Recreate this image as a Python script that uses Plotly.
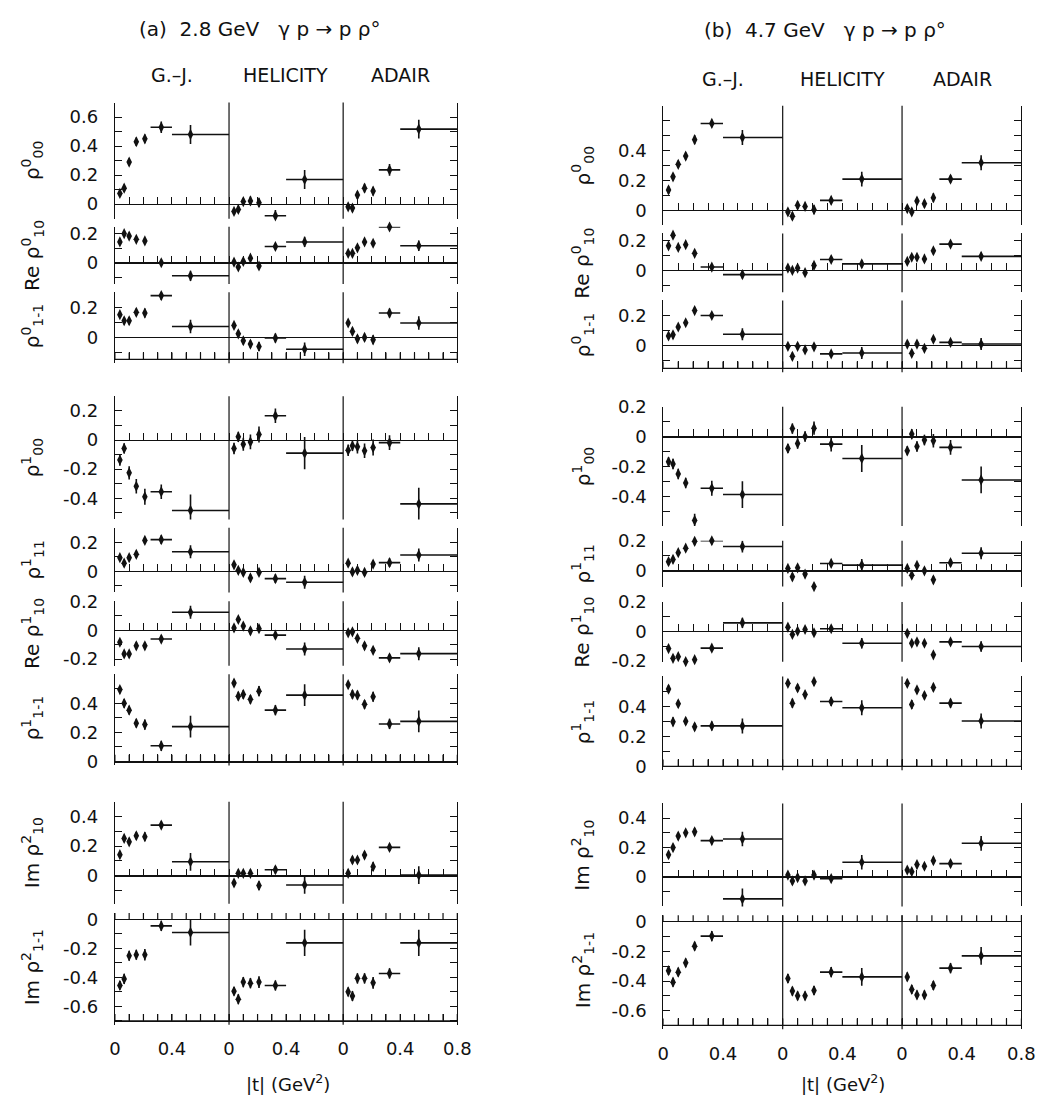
import plotly.graph_objects as go

W, H = 1057, 1108

# ---------------- data ----------------
T = [0.035, 0.065, 0.10, 0.15, 0.21, 0.325, 0.53]          # |t| bin centres (GeV^2)
T_ERR_MINUS = [0, 0, 0, 0, 0, 0.075, 0.13]
T_ERR_PLUS = [0, 0, 0, 0, 0, 0.075, 0.27]

FRAMES = ["G.–J.", "HELICITY", "ADAIR"]
ROW_LABELS = ["ρ<sup>0</sup><sub>00</sub>", "Re ρ<sup>0</sup><sub>10</sub>", "ρ<sup>0</sup><sub>1-1</sub>",
              "ρ<sup>1</sup><sub>00</sub>", "ρ<sup>1</sup><sub>11</sub>", "Re ρ<sup>1</sup><sub>10</sub>",
              "ρ<sup>1</sup><sub>1-1</sub>", "Im ρ<sup>2</sup><sub>10</sub>", "Im ρ<sup>2</sup><sub>1-1</sub>"]
X_TICK_LABELS = ["0", "0.4", "0", "0.4", "0", "0.4", "0.8"]

# (a) 2.8 GeV   -- each row: [G.-J., HELICITY, ADAIR]
A_R1 = [[0.074, 0.11, 0.29, 0.43, 0.45, 0.53, 0.48],
        [-0.05, -0.036, 0.018, 0.022, 0.01, -0.08, 0.17],
        [-0.018, -0.027, 0.063, 0.11, 0.09, 0.236, 0.517]]
A_R1_ERR = [0.02, 0.025, 0.025, 0.03, 0.03, 0.04, 0.065]
A_R2 = [[0.142, 0.198, 0.182, 0.16, 0.149, 0.0, -0.089],
        [0.004, -0.029, 0.009, 0.031, -0.022, 0.111, 0.142],
        [0.064, 0.064, 0.102, 0.142, 0.133, 0.244, 0.116]]
A_R2_ERR = [0.012, 0.012, 0.012, 0.015, 0.015, 0.02, 0.035]
A_R3 = [[0.151, 0.111, 0.111, 0.167, 0.162, 0.278, 0.073],
        [0.08, 0.024, -0.022, -0.044, -0.06, -0.004, -0.078],
        [0.096, 0.04, -0.009, 0.0, -0.016, 0.162, 0.096]]
A_R3_ERR = [0.02, 0.025, 0.025, 0.025, 0.03, 0.03, 0.045]
A_R4 = [[-0.137, -0.058, -0.225, -0.317, -0.389, -0.355, -0.483],
        [-0.058, 0.022, -0.029, -0.013, 0.038, 0.166, -0.09],
        [-0.07, -0.04, -0.047, -0.074, -0.052, -0.018, -0.438]]
A_R4_ERR = [0.04, 0.035, 0.045, 0.05, 0.055, 0.05, 0.11]
A_R5 = [[0.094, 0.056, 0.094, 0.117, 0.213, 0.218, 0.135],
        [0.045, 0.007, -0.007, -0.045, -0.007, -0.05, -0.075],
        [0.056, -0.004, 0.007, -0.007, 0.05, 0.06, 0.112]]
A_R5_ERR = [0.02, 0.025, 0.025, 0.025, 0.025, 0.03, 0.045]
A_R6 = [[-0.083, -0.164, -0.164, -0.108, -0.108, -0.061, 0.124],
        [0.016, 0.074, 0.029, -0.004, 0.011, -0.034, -0.13],
        [-0.018, -0.011, -0.056, -0.108, -0.139, -0.191, -0.162]]
A_R6_ERR = [0.02, 0.02, 0.02, 0.025, 0.025, 0.025, 0.045]
A_R7 = [[0.494, 0.40, 0.353, 0.263, 0.254, 0.108, 0.24],
        [0.539, 0.449, 0.461, 0.427, 0.483, 0.353, 0.456],
        [0.528, 0.461, 0.456, 0.393, 0.445, 0.258, 0.276]]
A_R7_ERR = [0.025, 0.03, 0.03, 0.03, 0.035, 0.035, 0.075]
A_R8 = [[0.142, 0.252, 0.229, 0.27, 0.263, 0.342, 0.094],
        [-0.049, 0.016, 0.016, 0.016, -0.067, 0.04, -0.063],
        [0.016, 0.106, 0.106, 0.139, 0.061, 0.191, 0.004]]
A_R8_ERR = [0.025, 0.025, 0.02, 0.025, 0.03, 0.025, 0.06]
A_R9 = [[-0.456, -0.411, -0.251, -0.244, -0.244, -0.045, -0.09],
        [-0.496, -0.551, -0.433, -0.44, -0.433, -0.456, -0.162],
        [-0.5, -0.529, -0.407, -0.407, -0.438, -0.373, -0.162]]
A_R9_ERR = [0.03, 0.035, 0.035, 0.035, 0.04, 0.035, 0.09]

# (b) 4.7 GeV
B_R1 = [[0.136, 0.224, 0.308, 0.363, 0.473, 0.582, 0.488],
        [-0.011, -0.04, 0.033, 0.026, 0.004, 0.066, 0.209],
        [0.011, -0.011, 0.062, 0.044, 0.084, 0.209, 0.319]]
B_R1_ERR = [0.025, 0.025, 0.025, 0.025, 0.03, 0.025, 0.05]
B_R2 = [[0.163, 0.233, 0.152, 0.17, 0.113, 0.022, -0.028],
        [0.015, 0.0, 0.015, -0.015, 0.033, 0.072, 0.043],
        [0.059, 0.087, 0.087, 0.076, 0.13, 0.174, 0.093]]
B_R2_ERR = [0.012, 0.012, 0.012, 0.012, 0.012, 0.012, 0.025]
B_R3 = [[0.065, 0.072, 0.124, 0.152, 0.233, 0.2, 0.076],
        [-0.004, -0.07, -0.004, -0.028, -0.007, -0.054, -0.048],
        [0.011, -0.05, 0.011, -0.017, 0.043, 0.022, 0.011]]
B_R3_ERR = [0.02, 0.025, 0.02, 0.02, 0.02, 0.02, 0.04]
B_R4 = [[-0.169, -0.184, -0.251, -0.311, -0.562, -0.347, -0.389],
        [-0.08, 0.053, -0.047, 0.0, 0.056, -0.051, -0.147],
        [-0.096, 0.016, -0.067, -0.024, -0.029, -0.073, -0.291]]
B_R4_ERR = [0.03, 0.035, 0.035, 0.035, 0.045, 0.05, 0.09]
B_R5 = [[0.061, 0.076, 0.121, 0.151, 0.196, 0.2, 0.162],
        [0.016, -0.04, 0.02, -0.022, -0.105, 0.049, 0.038],
        [0.016, -0.029, 0.036, 0.0, -0.06, 0.054, 0.117]]
B_R5_ERR = [0.02, 0.025, 0.02, 0.02, 0.025, 0.025, 0.04]
B_R6 = [[-0.116, -0.182, -0.171, -0.204, -0.191, -0.113, 0.058],
        [0.029, -0.02, 0.002, 0.013, -0.009, 0.018, -0.08],
        [-0.013, -0.08, -0.071, -0.08, -0.158, -0.071, -0.102]]
B_R6_ERR = [0.015, 0.02, 0.02, 0.015, 0.015, 0.02, 0.035]
B_R7 = [[0.516, 0.297, 0.418, 0.301, 0.264, 0.27, 0.27],
        [0.554, 0.422, 0.523, 0.479, 0.565, 0.433, 0.391],
        [0.554, 0.413, 0.51, 0.473, 0.527, 0.422, 0.303]]
B_R7_ERR = [0.025, 0.03, 0.025, 0.025, 0.025, 0.03, 0.05]
B_R8 = [[0.151, 0.2, 0.278, 0.3, 0.307, 0.247, 0.258],
        [0.013, -0.027, -0.004, -0.027, 0.013, -0.011, 0.1],
        [0.047, 0.036, 0.084, 0.073, 0.111, 0.091, 0.229]]
B_R8_ERR = [0.02, 0.025, 0.025, 0.02, 0.025, 0.025, 0.05]
B_R8_GJ_EXTRA = [-0.149]          # second G.-J. point in the last |t| bin
B_R8_GJ_EXTRA_ERR = [0.07]
B_R9 = [[-0.33, -0.408, -0.34, -0.277, -0.164, -0.096, None],
        [-0.383, -0.468, -0.5, -0.5, -0.464, -0.34, -0.372],
        [-0.372, -0.457, -0.494, -0.494, -0.43, -0.313, -0.23]]
B_R9_ERR = [0.03, 0.03, 0.03, 0.03, 0.03, 0.035, 0.06]

A_ROWS = [A_R1, A_R2, A_R3, A_R4, A_R5, A_R6, A_R7, A_R8, A_R9]
A_ERRS = [A_R1_ERR, A_R2_ERR, A_R3_ERR, A_R4_ERR, A_R5_ERR, A_R6_ERR, A_R7_ERR, A_R8_ERR, A_R9_ERR]
B_ROWS = [B_R1, B_R2, B_R3, B_R4, B_R5, B_R6, B_R7, B_R8, B_R9]
B_ERRS = [B_R1_ERR, B_R2_ERR, B_R3_ERR, B_R4_ERR, B_R5_ERR, B_R6_ERR, B_R7_ERR, B_R8_ERR, B_R9_ERR]

A_TICKS = [[0, 0.2, 0.4, 0.6], [0, 0.2], [0, 0.2], [0.2, 0, -0.2, -0.4], [0, 0.2],
           [0.2, 0, -0.2], [0, 0.2, 0.4], [0, 0.2, 0.4], [0, -0.2, -0.4, -0.6]]
B_TICKS = [[0, 0.2, 0.4], [0, 0.2], [0, 0.2], [0.2, 0, -0.2, -0.4], [0, 0.2],
           [0.2, 0, -0.2], [0, 0.2, 0.4], [0, 0.2, 0.4], [0, -0.2, -0.4, -0.6]]

# ---------------- layout geometry (pixels) ----------------
A_XPX = (111, 460)
B_XPX = (670, 1035)
A_YPX = [(93.3, 211.7), (220, 278.3), (286.7, 355), (392.7, 518.3), (526.7, 592.7),
         (601.7, 667.3), (676, 765), (806, 910), (919.3, 1029.3)]
B_YPX = [(96.7, 218.3), (226.7, 286.7), (295, 364.3), (403.3, 525), (540, 586.7),
         (602.3, 663.3), (678.3, 770), (807.7, 912.7), (921.7, 1034)]
A_YR = [(-0.1, 0.7), (-0.145, 0.245), (-0.145, 0.3), (-0.545, 0.3), (-0.145, 0.3),
        (-0.245, 0.2), (0, 0.6), (-0.19, 0.5), (-0.7, 0.045)]
B_YR = [(-0.1, 0.7), (-0.145, 0.245), (-0.15, 0.3), (-0.6, 0.2), (-0.105, 0.2),
        (-0.205, 0.2), (0, 0.6), (-0.2, 0.5), (-0.7, 0.045)]

FRAME_W = 0.8
N_XTICKS = 24          # minor x ticks every 0.1 across the three frames
TICK_PX = 7
FONT = "DejaVu Sans"
INK = "#111111"
LW = 1.2
PAD_PX = 4             # rows 3, 7, 9: y domain extends this far below the bottom line


def fmt(v):
    return "0" if v == 0 else ("%g" % v)


def sfx(n):
    return "" if n == 1 else str(n)


fig = go.Figure()
layout = dict(width=W, height=H, margin=dict(l=0, r=0, t=0, b=0), autosize=False,
              paper_bgcolor="white", plot_bgcolor="white", showlegend=False,
              font=dict(family=FONT, color=INK))
shapes, annotations = [], []

xtickvals = [i * 0.4 for i in range(7)]
minor_common = dict(dtick=0.1, tick0=0, ticks="inside", ticklen=TICK_PX, tickwidth=LW,
                    tickcolor=INK, showgrid=False)


def xaxis_cfg(xdom, pos, **extra):
    d = dict(domain=xdom, range=[0, FRAME_W * 3], showgrid=False, zeroline=False,
             tickmode="array", tickvals=xtickvals, ticktext=X_TICK_LABELS,
             ticks="inside", ticklen=TICK_PX, tickwidth=LW, tickcolor=INK,
             showline=True, linecolor=INK, linewidth=LW,
             minor=minor_common, showticklabels=False, fixedrange=True,
             anchor="free", position=pos)
    d.update(extra)
    return d


panels = [(A_ROWS, A_ERRS, A_XPX, A_YPX, A_YR, A_TICKS, 27),
          (B_ROWS, B_ERRS, B_XPX, B_YPX, B_YR, B_TICKS, 588)]
for p, (rows, errs, xpx, ypx, yr, ticks, labx) in enumerate(panels):
    xdom = [xpx[0] / W, xpx[1] / W]
    for r in range(9):
        idx = p * 9 + r + 1
        s = sfx(idx)
        top, bot = ypx[r]
        y0, y1 = yr[r]
        bottom_axis = r in (2, 6, 8)
        if bottom_axis:
            # extend the row a little below its bottom line so the line sits inside
            per_px = (y1 - y0) / (bot - top)
            line_frac = 1 - bot / H
            bot_ext = bot + PAD_PX
            y0_ext = y0 - PAD_PX * per_px
        else:
            bot_ext, y0_ext = bot, y0
        ydom = [1 - bot_ext / H, 1 - top / H]
        p0 = ydom[0] + (0 - y0_ext) / (y1 - y0_ext) * (ydom[1] - ydom[0])
        # traces
        for k in range(3):
            vals = rows[r][k]
            xs, ys, es, em, ep = [], [], [], [], []
            for i, v in enumerate(vals):
                if v is None:
                    continue
                xs.append(T[i] + FRAME_W * k)
                ys.append(v)
                es.append(errs[r][i])
                em.append(T_ERR_MINUS[i])
                ep.append(T_ERR_PLUS[i])
            if p == 1 and r == 7 and k == 0:
                for v, e in zip(B_R8_GJ_EXTRA, B_R8_GJ_EXTRA_ERR):
                    xs.append(T[6]); ys.append(v); es.append(e)
                    em.append(T_ERR_MINUS[6]); ep.append(T_ERR_PLUS[6])
            fig.add_trace(go.Scatter(
                x=xs, y=ys, mode="markers", xaxis="x" + s, yaxis="y" + s,
                marker=dict(symbol="diamond-tall", size=8, color=INK),
                error_y=dict(type="data", array=es, color=INK, thickness=1.6, width=0),
                error_x=dict(type="data", array=ep, arrayminus=em, color=INK, thickness=1.6, width=0),
                hoverinfo="skip", cliponaxis=False))
        # x axis
        if bottom_axis:
            extra = {}
            if r == 8:
                extra = dict(showticklabels=True, tickfont=dict(size=18, family=FONT, color=INK),
                             ticklabelstandoff=12)
            layout["xaxis" + s] = xaxis_cfg(xdom, line_frac, **extra)
            # fallback line + ticks as shapes in data coordinates (inside the row)
            yb = y0
            ytk = y0 + TICK_PX * per_px
            shapes.append(dict(type="line", xref="x" + s, yref="y" + s, x0=0, x1=FRAME_W * 3,
                               y0=yb, y1=yb, line=dict(color=INK, width=LW)))
            for i in range(N_XTICKS + 1):
                shapes.append(dict(type="line", xref="x" + s, yref="y" + s, x0=i * 0.1, x1=i * 0.1,
                                   y0=yb, y1=ytk, line=dict(color=INK, width=LW)))
            if r == 8:
                for i in range(N_XTICKS + 1):
                    shapes.append(dict(type="line", xref="x" + s, yref="y" + s, x0=i * 0.1,
                                       x1=i * 0.1, y0=0, y1=TICK_PX * per_px,
                                       line=dict(color=INK, width=LW)))
        else:
            layout["xaxis" + s] = xaxis_cfg(xdom, p0)
        # y axis
        tv = ticks[r]
        layout["yaxis" + s] = dict(
            domain=ydom, range=[y0_ext, y1], anchor="x" + s, showgrid=False,
            zeroline=True, zerolinecolor=INK, zerolinewidth=LW,
            showline=True, linecolor=INK, linewidth=LW, mirror="ticks",
            tickmode="array", tickvals=tv, ticktext=[fmt(v) for v in tv],
            ticks="inside", ticklen=TICK_PX, tickwidth=LW, tickcolor=INK,
            minor=minor_common, tickfont=dict(size=18, family=FONT, color=INK),
            ticklabelstandoff=12, fixedrange=True)
        # frame dividers
        for k in (1, 2):
            shapes.append(dict(type="line", xref="x" + s, yref="y%s domain" % s,
                               x0=FRAME_W * k, x1=FRAME_W * k, y0=0, y1=1,
                               line=dict(color=INK, width=LW)))
        # row label
        annotations.append(dict(text=ROW_LABELS[r], xref="paper", yref="paper",
                                x=labx / W, y=1 - (top + bot) / 2 / H, textangle=-90,
                                showarrow=False, xanchor="center", yanchor="middle",
                                font=dict(size=20, family=FONT, color=INK)))

# headers
heads = [("(a)  2.8 GeV   γ p → p ρ°", 258, 18), ("(b)  4.7 GeV   γ p → p ρ°", 835, 19)]
for txt, x, y in heads:
    annotations.append(dict(text=txt, xref="paper", yref="paper", x=x / W, y=1 - y / H,
                            showarrow=False, xanchor="center", yanchor="middle",
                            font=dict(size=20, family=FONT, color=INK)))
frame_lab = [((169, 285, 402), 65), ((731, 853, 975), 69)]
for xs, y in frame_lab:
    for name, x in zip(FRAMES, xs):
        annotations.append(dict(text=name, xref="paper", yref="paper", x=x / W, y=1 - y / H,
                                showarrow=False, xanchor="center", yanchor="middle",
                                font=dict(size=19, family=FONT, color=INK)))
for x in (287, 853):
    annotations.append(dict(text="|t| (GeV<sup>2</sup>)", xref="paper", yref="paper",
                            x=x / W, y=1 - 1093 / H, showarrow=False, xanchor="center",
                            yanchor="middle", font=dict(size=18, family=FONT, color=INK)))

layout["shapes"] = shapes
layout["annotations"] = annotations
fig.update_layout(**layout)
fig.write_html("out.html")
